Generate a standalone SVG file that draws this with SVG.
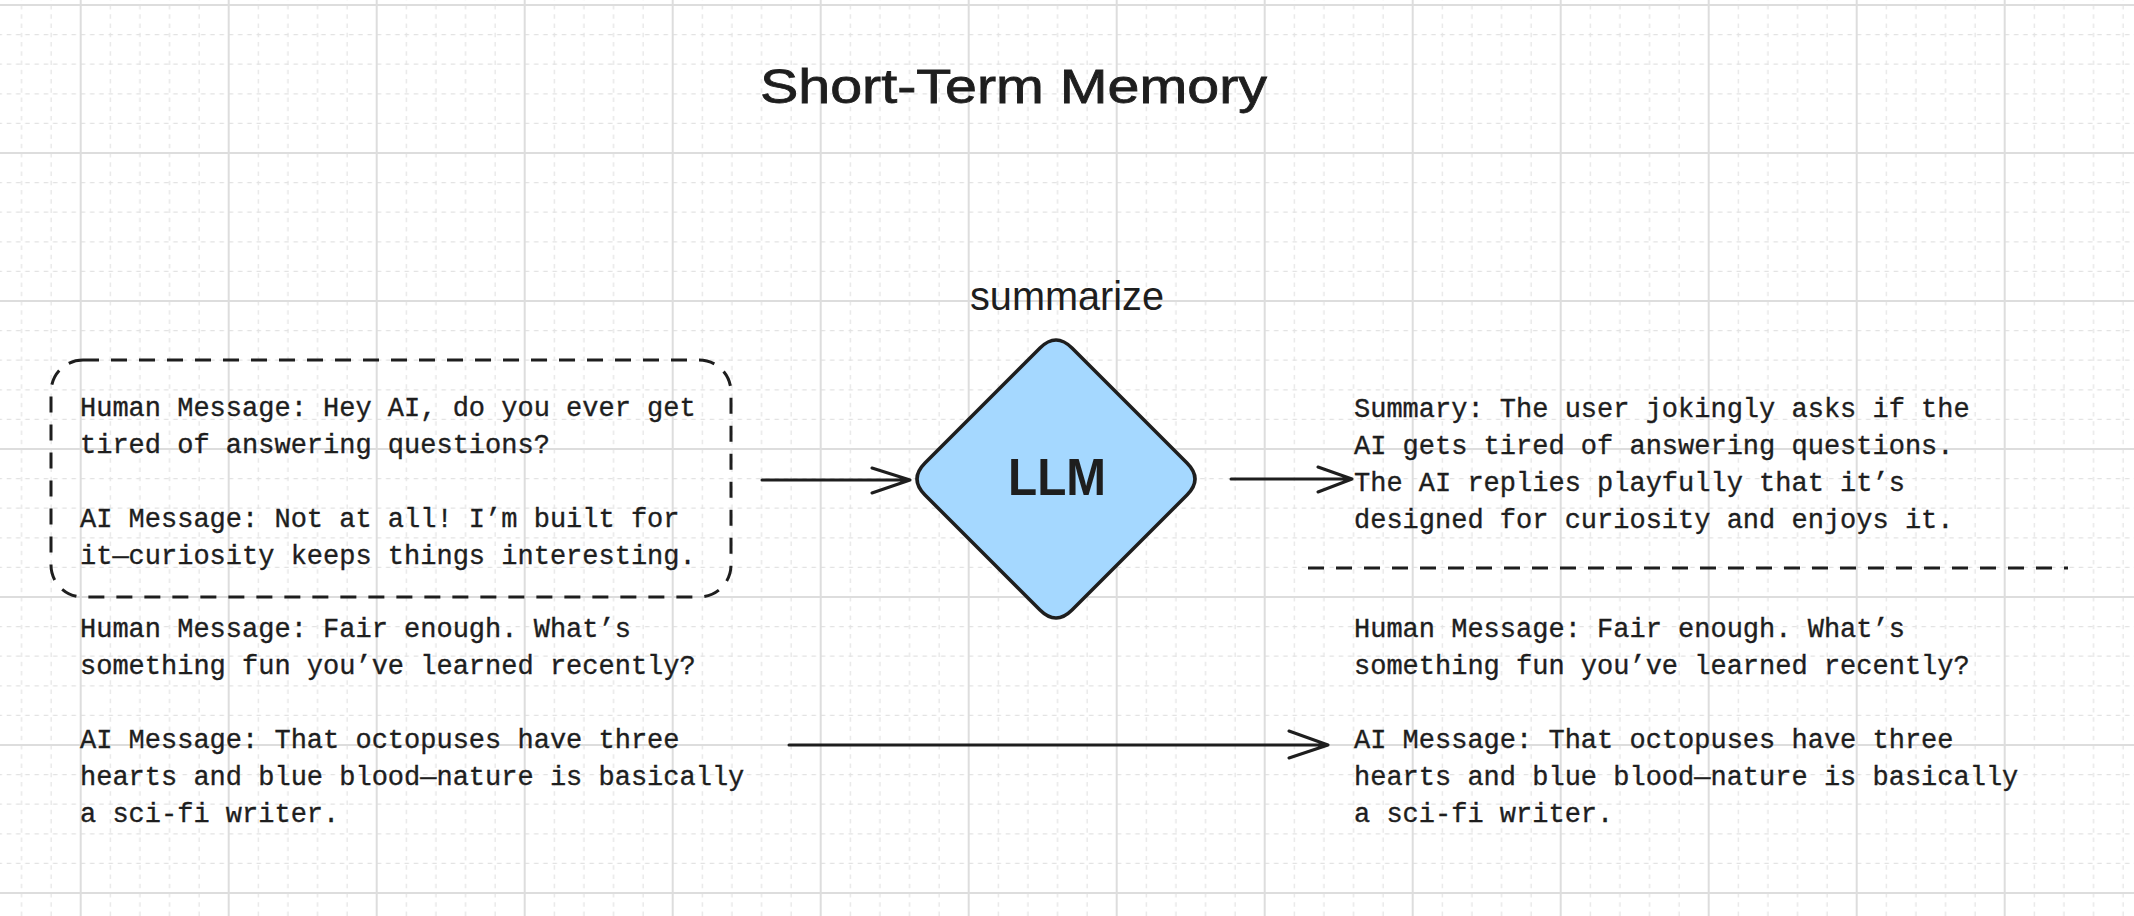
<svg xmlns="http://www.w3.org/2000/svg" width="2134" height="916" viewBox="0 0 2134 916">
<style>
.mono{font-family:"Liberation Mono","DejaVu Sans Mono",monospace;font-size:27px;fill:#1e1e1e;stroke:#1e1e1e;stroke-width:0.35}
.hand{font-family:"Liberation Sans","Noto Sans",sans-serif;fill:#1e1e1e}
.ln{stroke:#1e1e1e;stroke-width:3;fill:none;stroke-linecap:round;stroke-linejoin:round}
.dash{stroke:#1e1e1e;stroke-width:3;fill:none;stroke-dasharray:16 12}
</style>
<defs>
<pattern id="grid" patternUnits="userSpaceOnUse" x="80.7" y="5" width="148" height="148">
<g stroke="#e3e3e3" stroke-width="1.2" stroke-dasharray="4.5 4.75">
<line x1="29.6" y1="0" x2="29.6" y2="148"/>
<line x1="59.2" y1="0" x2="59.2" y2="148"/>
<line x1="88.8" y1="0" x2="88.8" y2="148"/>
<line x1="118.4" y1="0" x2="118.4" y2="148"/>
<line x1="0" y1="29.6" x2="148" y2="29.6"/>
<line x1="0" y1="59.2" x2="148" y2="59.2"/>
<line x1="0" y1="88.8" x2="148" y2="88.8"/>
<line x1="0" y1="118.4" x2="148" y2="118.4"/>
</g>
<g stroke="#dddddd" stroke-width="2">
<line x1="0" y1="0" x2="0" y2="148"/>
<line x1="148" y1="0" x2="148" y2="148"/>
<line x1="0" y1="0" x2="148" y2="0"/>
<line x1="0" y1="148" x2="148" y2="148"/>
</g>
</pattern>
</defs>
<rect width="2134" height="916" fill="#ffffff"/>
<rect width="2134" height="916" fill="url(#grid)"/>

<g id="title">
<text class="hand" x="1013.5" y="103" font-size="48" text-anchor="middle" textLength="507" lengthAdjust="spacingAndGlyphs" stroke="#1e1e1e" stroke-width="0.8">Short-Term Memory</text>
</g>

<g id="history-box">
<rect class="dash" x="51" y="360" width="680" height="237" rx="32" ry="32"/>
<text class="mono" x="80" y="416">Human Message: Hey AI, do you ever get</text>
<text class="mono" x="80" y="453">tired of answering questions?</text>
<text class="mono" x="80" y="527">AI Message: Not at all! I’m built for</text>
<text class="mono" x="80" y="564">it—curiosity keeps things interesting.</text>
</g>

<g id="recent-left">
<text class="mono" x="80" y="637">Human Message: Fair enough. What’s</text>
<text class="mono" x="80" y="674">something fun you’ve learned recently?</text>
<text class="mono" x="80" y="748">AI Message: That octopuses have three</text>
<text class="mono" x="80" y="785">hearts and blue blood—nature is basically</text>
<text class="mono" x="80" y="822">a sci-fi writer.</text>
</g>

<g id="llm">
<text class="hand" x="1067" y="310" font-size="40" text-anchor="middle" textLength="194" lengthAdjust="spacingAndGlyphs">summarize</text>
<path d="M1040,348 Q1056,332 1072,348 L1187,463 Q1203,479 1187,495 L1072,610 Q1056,626 1040,610 L925,495 Q909,479 925,463 Z" fill="#a5d8ff" stroke="#1e1e1e" stroke-width="3.5" stroke-linejoin="round"/>
<text class="hand" x="1057" y="495" font-size="52" font-weight="bold" text-anchor="middle" textLength="98" lengthAdjust="spacingAndGlyphs">LLM</text>
</g>

<g id="summary">
<text class="mono" x="1354" y="416.5">Summary: The user jokingly asks if the</text>
<text class="mono" x="1354" y="453.5">AI gets tired of answering questions.</text>
<text class="mono" x="1354" y="490.5">The AI replies playfully that it’s</text>
<text class="mono" x="1354" y="527.5">designed for curiosity and enjoys it.</text>
<line class="dash" x1="1308" y1="568" x2="2068" y2="568"/>
</g>

<g id="recent-right">
<text class="mono" x="1354" y="637">Human Message: Fair enough. What’s</text>
<text class="mono" x="1354" y="674">something fun you’ve learned recently?</text>
<text class="mono" x="1354" y="748">AI Message: That octopuses have three</text>
<text class="mono" x="1354" y="785">hearts and blue blood—nature is basically</text>
<text class="mono" x="1354" y="822">a sci-fi writer.</text>
</g>

<g id="connectors">
<path class="ln" d="M762,480 L910,480 M872,468 L910,480 L872,493"/>
<path class="ln" d="M1231,479 L1352,479 M1318,467 L1352,479 L1318,492"/>
<path class="ln" stroke-width="4.5" d="M789,745 L1328,745 M1289,731 L1328,745 L1289,758"/>
</g>
</svg>
